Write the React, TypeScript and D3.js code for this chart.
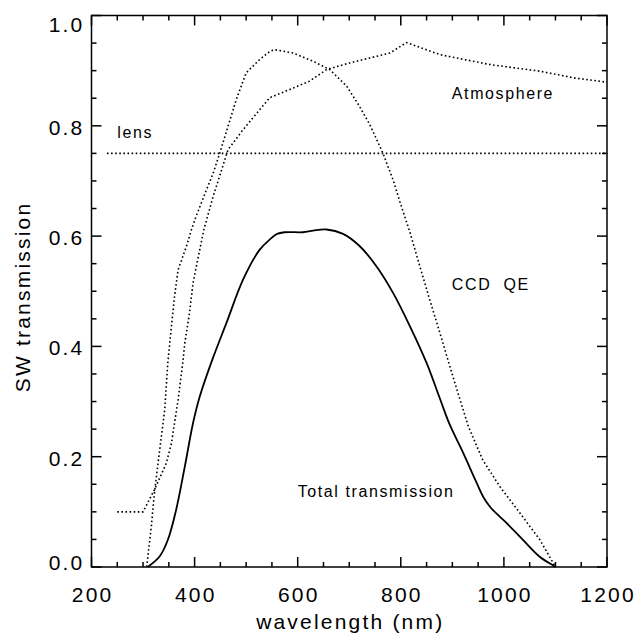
import React from "react";
import * as d3 from "d3";

// ---- data ----
const lensWl = [230, 1200];
const lensT = [0.75, 0.75];

const atmWl = [250, 300, 322, 345, 355, 368, 377, 381, 390, 397, 406, 418, 436, 465, 494, 526, 546, 585, 623, 656, 701, 740, 779, 811, 876, 973, 1070, 1135, 1200];
const atmT = [0.1, 0.1, 0.14, 0.188, 0.224, 0.303, 0.37, 0.406, 0.46, 0.515, 0.557, 0.612, 0.672, 0.757, 0.793, 0.829, 0.851, 0.866, 0.881, 0.902, 0.914, 0.923, 0.932, 0.951, 0.929, 0.911, 0.899, 0.887, 0.879];

const ccdWl = [307, 316, 322, 332, 342, 348, 355, 361, 368, 384, 394, 403, 423, 436, 449, 481, 500, 526, 546, 555, 591, 630, 662, 695, 720, 740, 765, 785, 799, 818, 837, 856, 876, 895, 915, 931, 959, 992, 1031, 1070, 1100];
const ccdT = [0, 0.073, 0.134, 0.21, 0.285, 0.37, 0.436, 0.49, 0.539, 0.581, 0.612, 0.636, 0.684, 0.714, 0.751, 0.848, 0.896, 0.92, 0.935, 0.938, 0.932, 0.917, 0.902, 0.872, 0.835, 0.802, 0.751, 0.702, 0.66, 0.606, 0.545, 0.485, 0.424, 0.364, 0.303, 0.255, 0.194, 0.146, 0.098, 0.049, 0];

const totWl = [309, 332, 348, 364, 381, 397, 410, 436, 462, 494, 526, 546, 560, 575, 610, 630, 656, 688, 720, 753, 785, 818, 850, 876, 895, 921, 945, 960, 975, 1005, 1037, 1070, 1095, 1100];
const totT = [0, 0.019, 0.049, 0.103, 0.182, 0.261, 0.309, 0.38, 0.443, 0.521, 0.575, 0.594, 0.604, 0.607, 0.607, 0.61, 0.612, 0.604, 0.582, 0.545, 0.497, 0.436, 0.37, 0.305, 0.258, 0.207, 0.157, 0.127, 0.107, 0.08, 0.049, 0.018, 0.003, 0];

const xMajor = [200, 400, 600, 800, 1000, 1200];
const yMajor = [0, 0.2, 0.4, 0.6, 0.8, 1.0];
const xMinorStep = 50;
const yMinorStep = 0.05;

const labels = [
  { text: "lens", wl: 250, t: 0.778 },
  { text: "Atmosphere", wl: 899, t: 0.849 },
  { text: "CCD  QE", wl: 899, t: 0.503 },
  { text: "Total transmission", wl: 600, t: 0.127 },
];

const W = 637;
const H = 633;
const L = 91.5, R = 607, T = 15.5, B = 567;
const FONT = "'Liberation Sans', Arial, sans-serif";

export default function App() {
  const x = d3.scaleLinear().domain([200, 1200]).range([L, R]);
  const y = d3.scaleLinear().domain([0, 1]).range([B, T]);

  const mk = (wl: number[], t: number[]) => wl.map((w, i) => [w, t[i]] as [number, number]);
  const lin = d3.line<[number, number]>().x(d => x(d[0])).y(d => y(d[1])).curve(d3.curveLinear);
  const smooth = d3.line<[number, number]>().x(d => x(d[0])).y(d => y(d[1])).curve(d3.curveCatmullRom.alpha(0.5));

  const xMinor = d3.range(200, 1200 + 1, xMinorStep).filter(v => !xMajor.includes(v));
  const yMinor = d3.range(0, 1.0001, yMinorStep).map(v => +v.toFixed(2)).filter(v => !yMajor.some(m => Math.abs(m - v) < 1e-6));

  const dotted = { fill: "none", stroke: "#000", strokeWidth: 1.6, strokeDasharray: "1.6 2.5" };
  const major = 10, minor = 5;

  return (
    <div style={{ position: "absolute", left: 0, top: 0, width: W, height: H, background: "#fff" }}>
      <svg width={W} height={H} style={{ display: "block" }}>
        <rect x={0} y={0} width={W} height={H} fill="#fff" />
        {/* curves */}
        <path d={lin(mk(lensWl, lensT)) || ""} {...dotted} />
        <path d={lin(mk(atmWl, atmT)) || ""} {...dotted} />
        <path d={lin(mk(ccdWl, ccdT)) || ""} {...dotted} />
        <path d={smooth(mk(totWl, totT)) || ""} fill="none" stroke="#000" strokeWidth={1.8} />

        {/* frame */}
        <rect x={L} y={T} width={R - L} height={B - T} fill="none" stroke="#000" strokeWidth={1.5} />
        {/* ticks */}
        <g stroke="#000" strokeWidth={1.5}>
          {xMajor.map(v => (
            <g key={"xM" + v}>
              <line x1={x(v)} x2={x(v)} y1={B} y2={B - major} />
              <line x1={x(v)} x2={x(v)} y1={T} y2={T + major} />
            </g>
          ))}
          {xMinor.map(v => (
            <g key={"xm" + v}>
              <line x1={x(v)} x2={x(v)} y1={B} y2={B - minor} />
              <line x1={x(v)} x2={x(v)} y1={T} y2={T + minor} />
            </g>
          ))}
          {yMajor.map(v => (
            <g key={"yM" + v}>
              <line x1={L} x2={L + major} y1={y(v)} y2={y(v)} />
              <line x1={R} x2={R - major} y1={y(v)} y2={y(v)} />
            </g>
          ))}
          {yMinor.map(v => (
            <g key={"ym" + v}>
              <line x1={L} x2={L + minor} y1={y(v)} y2={y(v)} />
              <line x1={R} x2={R - minor} y1={y(v)} y2={y(v)} />
            </g>
          ))}
        </g>

        {/* tick labels */}
        <g fontFamily={FONT} fontSize={21} fill="#000" letterSpacing={2.2}>
          {xMajor.map(v => (
            <text key={"xl" + v} x={x(v) + 1.1} y={602} textAnchor="middle">{v}</text>
          ))}
          {yMajor.map(v => {
            const cy = Math.min(Math.max(y(v) + 1.5, T + 8.5), B - 4.5);
            return (
              <text key={"yl" + v} x={84.5} y={cy + 7.5} textAnchor="end">{v.toFixed(1)}</text>
            );
          })}
          <text x={(L + R) / 2 + 1} y={629} textAnchor="middle">wavelength (nm)</text>
          <text transform={`translate(30,${297}) rotate(-90)`} textAnchor="middle">SW transmission</text>
        </g>

        {/* curve labels */}
        <g fontFamily={FONT} fontSize={16} fill="#000" letterSpacing={1.6}>
          {labels.map(l => (
            <text key={l.text} x={x(l.wl)} y={y(l.t)} style={{ whiteSpace: "pre" }}>{l.text}</text>
          ))}
        </g>
      </svg>
    </div>
  );
}
